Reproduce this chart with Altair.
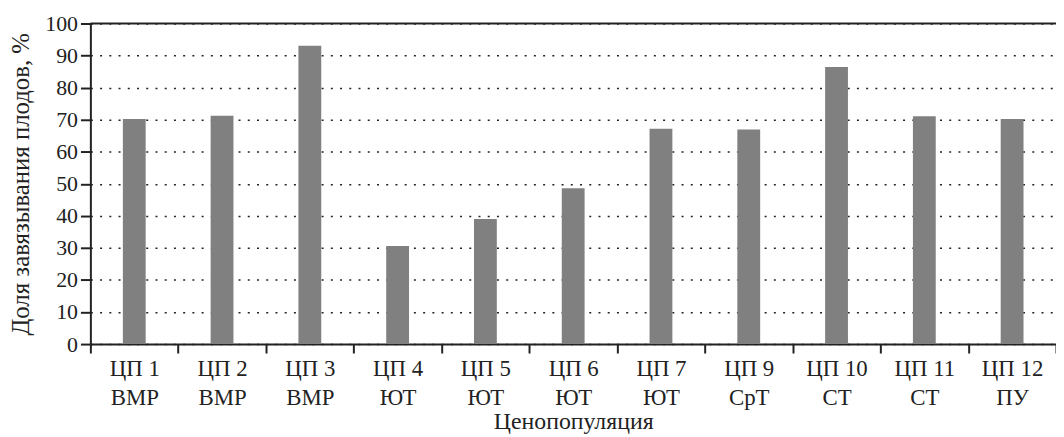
import altair as alt
import pandas as pd

codes = ["ЦП 1", "ЦП 2", "ЦП 3", "ЦП 4", "ЦП 5", "ЦП 6", "ЦП 7", "ЦП 9", "ЦП 10", "ЦП 11", "ЦП 12"]
zones = ["ВМР", "ВМР", "ВМР", "ЮТ", "ЮТ", "ЮТ", "ЮТ", "СрТ", "СТ", "СТ", "ПУ"]
values = [70.2, 71.2, 93.1, 30.6, 39.0, 48.6, 67.2, 66.9, 86.4, 71.1, 70.2]
y_ticks = [0, 10, 20, 30, 40, 50, 60, 70, 80, 90, 100]

df = pd.DataFrame({"cat": [f"{c}|{z}" for c, z in zip(codes, zones)], "v": values})

FONT = "Liberation Serif"
INK = "#222222"
W, H = 973, 323

bars = alt.Chart(df).mark_bar(color="#808080", width=alt.RelativeBandSize(0.26)).encode(
    x=alt.X(
        "cat:N", sort=None,
        scale=alt.Scale(paddingInner=0, paddingOuter=0),
        axis=alt.Axis(
            title="Ценопопуляция", labelExpr="split(datum.label, '|')", labelAngle=0,
            tickBand="extent", tickSize=9, tickWidth=2, tickColor=INK,
            domainColor=INK, domainWidth=2, labelFont=FONT, labelFontSize=23,
            labelColor=INK, labelLineHeight=29, labelPadding=5,
            titleFont=FONT, titleFontSize=24, titleFontWeight="normal", titleColor=INK,
            titlePadding=0, grid=False,
        ),
    ),
    y=alt.Y(
        "v:Q",
        scale=alt.Scale(domain=[0, 100], nice=False),
        axis=alt.Axis(
            title="Доля завязывания плодов, %", values=y_ticks,
            tickSize=10, tickWidth=2, tickColor=INK, domainColor=INK, domainWidth=2,
            labelFont=FONT, labelFontSize=22, labelColor=INK, labelPadding=3,
            titleFont=FONT, titleFontSize=25, titleFontWeight="normal", titleColor=INK,
            titlePadding=11,
            grid=True, gridDash=[2, 7.3], gridWidth=1.5, gridColor=INK,
        ),
    ),
)

top = alt.Chart(pd.DataFrame({"a": [0]})).mark_rule(color=INK, strokeWidth=2).encode(
    x=alt.value(0), x2=alt.value(W), y=alt.value(0)
)

chart = alt.layer(bars, top).properties(
    width=W, height=H,
    autosize=alt.AutoSizeParams(type="none"),
    padding={"left": 83, "top": 14, "right": 0, "bottom": 92},
).configure_view(stroke=None)

chart.save("out.html", embed_options={"renderer": "svg", "actions": False})
